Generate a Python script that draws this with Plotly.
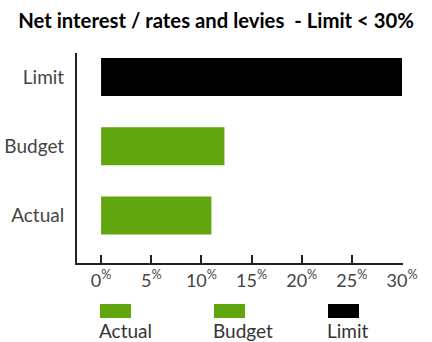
import plotly.graph_objects as go

# Net interest as a share of rates and levies (%)
categories = ["Actual", "Budget", "Limit"]
values = [11.0, 12.3, 30.0]
bar_colors = ["#62a60f", "#62a60f", "#000000"]
tick_values = [0, 5, 10, 15, 20, 25, 30]
tick_labels = [f"{v}<sup>%</sup>" for v in tick_values]
title_text = "Net interest / rates and levies  - Limit < 30%"

FONT = "Lato"
W, H = 432, 342
L, R, T, B = 77, 29, 53, 79
plot_w = W - L - R
plot_h = H - T - B

fig = go.Figure(
    go.Bar(
        x=values,
        y=list(range(len(categories))),
        orientation="h",
        marker=dict(color=bar_colors, line=dict(width=0)),
        width=0.55,
        showlegend=False,
        hoverinfo="skip",
    )
)


def px_x(p):
    return (p - L) / plot_w


def px_y(p):
    return (H - B - p) / plot_h


# Legend: swatch above its label, laid out in a row below the axis
legend_left = [100, 214, 328]
for name, color, left in zip(categories, bar_colors, legend_left):
    fig.add_shape(
        type="rect", xref="paper", yref="paper",
        x0=px_x(left), x1=px_x(left + 31),
        y0=px_y(318), y1=px_y(304),
        fillcolor=color, line=dict(width=0),
    )
    fig.add_annotation(
        x=px_x(left - 3), y=px_y(330), xref="paper", yref="paper",
        text=name, showarrow=False, xanchor="left", yanchor="middle",
        font=dict(family=FONT, size=19, color="#333333"),
    )

fig.update_layout(
    width=W, height=H,
    margin=dict(l=L, r=R, t=T, b=B, pad=0, autoexpand=False),
    paper_bgcolor="white", plot_bgcolor="white",
    title=dict(
        text=f"<b>{title_text}</b>", x=0.5, xref="container", xanchor="center",
        y=1 - 21 / H, yanchor="middle", automargin=False,
        font=dict(family=FONT, size=20.3, color="#000000"),
    ),
    xaxis=dict(
        range=[-2.4, 30.1], tickvals=tick_values, ticktext=tick_labels,
        showgrid=False, zeroline=False, showline=True, linecolor="#222222",
        linewidth=2, ticks="inside", ticklen=8, tickwidth=2, tickcolor="#222222",
        tickfont=dict(family=FONT, size=18, color="#444444"),
        fixedrange=True, automargin=False,
    ),
    yaxis=dict(
        range=[-0.686, 2.347], tickvals=list(range(len(categories))),
        ticktext=categories, showgrid=False, zeroline=False, showline=True,
        linecolor="#222222", linewidth=2, ticks="", ticklabelstandoff=7,
        tickfont=dict(family=FONT, size=19, color="#444444"),
        fixedrange=True, automargin=False,
    ),
)

fig.write_html("out.html")
